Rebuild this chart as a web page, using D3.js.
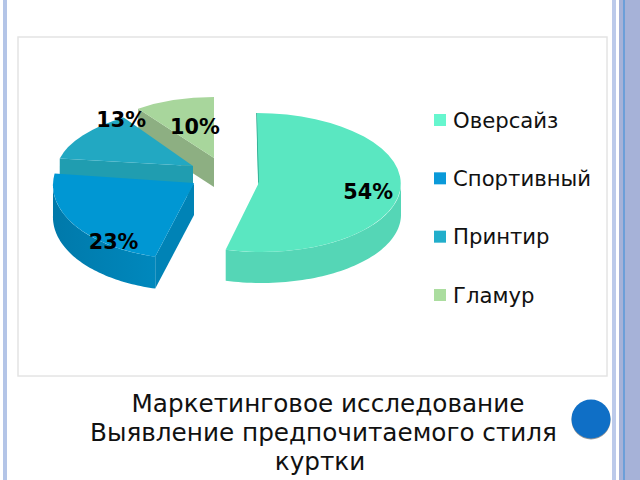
<!DOCTYPE html>
<html lang="ru">
<head>
<meta charset="utf-8">
<title>Маркетинговое исследование</title>
<script src="https://cdn.jsdelivr.net/npm/d3@7"></script>
<style>
html, body { margin: 0; padding: 0; background: #fff; overflow: hidden; }
svg { display: block; font-family: "DejaVu Sans", sans-serif; }
</style>
</head>
<body>
<script>
// data
var categories = ["Оверсайз", "Спортивный", "Принтир", "Гламур"];
var values = [54, 23, 13, 10];
var titleLines = ["Маркетинговое исследование", "Выявление предпочитаемого стиля", "куртки"];

// look
var topColors = ["#5ae7c1", "#0097d3", "#22a8c2", "#a8d69c"];
var wallColors = ["#55d6b6", "#0083b6", "#209db0", "#8daf82"];
var legendColors = ["#66f6ce", "#0a9ad9", "#22aecb", "#abdd9f"];

var w = 640, h = 480;
var titleX = [328, 323.5, 320];
var titleY = [411.5, 440.5, 470];

// each exploded slice has its own centre, squash and skew, the original has perspective
var sliceBox = [
    {cx: 259, cy: 182.5, rx: 142, ry: 69.5, k: 0.03, depth: 31, labelR: 0.77, labelDx: 0.5, labelDy: 3},
    {cx: 194, cy: 183, rx: 141, ry: 76, k: -0.05, depth: 32, labelR: 0.69, labelDx: 1.5, labelDy: 30},
    {cx: 193, cy: 166, rx: 136, ry: 60, k: -0.22, depth: 30, labelR: 0.62, labelDx: -3.5, labelDy: -27},
    {cx: 214, cy: 158, rx: 129, ry: 61, k: 0, depth: 29, labelR: 0.48, labelDx: 0, labelDy: -3}
];

var svg = d3.select("body").append("svg").attr("width", w).attr("height", h);

// darker towards the left on the blue wall
var grad = svg.append("defs").append("linearGradient").attr("id", "blueWall");
grad.append("stop").attr("offset", "0%").attr("stop-color", "#0079aa");
grad.append("stop").attr("offset", "100%").attr("stop-color", "#0088bd");

// slide frame
svg.append("rect").attr("x", 3).attr("y", 0).attr("width", 4).attr("height", h).attr("fill", "#b4c5e7");
svg.append("rect").attr("x", 612).attr("y", 0).attr("width", 4).attr("height", h).attr("fill", "#bccaea");
svg.append("rect").attr("x", 619).attr("y", 0).attr("width", 21).attr("height", h).attr("fill", "#a6b2d8");
svg.append("rect").attr("x", 623).attr("y", 0).attr("width", 2).attr("height", h).attr("fill", "#6c9fd9");

// chart box
svg.append("rect").attr("x", 18).attr("y", 37).attr("width", 589).attr("height", 339)
    .attr("fill", "#fff").attr("stroke", "#e4e4e4").attr("stroke-width", 1.5);

var pie = d3.pie().sort(null).value(function(d){ return d; });
var arcs = pie(values);

var arc = d3.arc().innerRadius(0).outerRadius(1);
var lineGen = d3.line();

function rim(b, a, r) {
    var yy = -b.ry * r * Math.cos(a);
    return [b.cx + b.rx * r * Math.sin(a) + b.k * yy, b.cy + yy];
}

// back to front
[3, 2, 1, 0].forEach(function(i){
    var d = arcs[i], b = sliceBox[i];
    var g = svg.append("g");

    // radial side wall, every slice shows the one at its start angle
    var p = rim(b, d.startAngle, 1), c = [b.cx, b.cy];
    g.append("path")
        .attr("d", lineGen([p, c, [c[0], c[1] + b.depth], [p[0], p[1] + b.depth]]) + "Z")
        .attr("fill", wallColors[i]);

    // curved outer wall on the front half
    var from = Math.max(d.startAngle, Math.PI / 2), to = Math.min(d.endAngle, Math.PI * 1.5);
    if (to > from) {
        var angles = d3.range(0, 61).map(function(k){ return from + (to - from) * k / 60; });
        var area = d3.area()
            .x(function(a){ return rim(b, a, 1)[0]; })
            .y0(function(a){ return rim(b, a, 1)[1]; })
            .y1(function(a){ return rim(b, a, 1)[1] + b.depth; });
        g.append("path").attr("d", area(angles))
            .attr("fill", i == 1 ? "url(#blueWall)" : wallColors[i]);
    }

    // thin dark edge of the big slice
    if (i == 0) {
        g.append("path").attr("d", lineGen([p, c])).attr("stroke", "#2fa78f").attr("stroke-width", 1.5).attr("fill", "none");
    }

    // top face
    g.append("path")
        .attr("transform", "matrix(" + [b.rx, 0, b.k * b.ry, b.ry, b.cx, b.cy].join(",") + ")")
        .attr("d", arc(d))
        .attr("fill", topColors[i]);
});

// value labels
arcs.forEach(function(d, i){
    var b = sliceBox[i];
    var p = rim(b, (d.startAngle + d.endAngle) / 2, b.labelR);
    svg.append("text")
        .attr("x", p[0] + b.labelDx).attr("y", p[1] + b.labelDy)
        .attr("text-anchor", "middle").attr("dominant-baseline", "central")
        .attr("font-size", 20.8).attr("font-weight", "bold").attr("fill", "#000")
        .text(d.value + "%");
});

// legend
var legendY = d3.scalePoint().domain(categories).range([120, 295]);
var legend = svg.selectAll(".leg").data(categories).enter().append("g").attr("class", "leg")
    .attr("transform", function(d){ return "translate(434," + legendY(d) + ")"; });
legend.append("rect").attr("x", 0).attr("y", -6).attr("width", 12).attr("height", 12)
    .attr("fill", function(d, i){ return legendColors[i]; });
legend.append("text").attr("x", 19).attr("y", 0).attr("dominant-baseline", "central")
    .attr("font-size", 21.2).attr("fill", "#111")
    .text(function(d){ return d; });

// caption
svg.selectAll(".cap").data(titleLines).enter().append("text").attr("class", "cap")
    .attr("x", function(d, i){ return titleX[i]; }).attr("y", function(d, i){ return titleY[i]; })
    .attr("text-anchor", "middle").attr("font-size", 24.7).attr("fill", "#111")
    .text(function(d){ return d; });

// round button
svg.append("circle").attr("cx", 591).attr("cy", 420).attr("r", 19.5).attr("fill", "#6b6b6b").attr("opacity", 0.7);
svg.append("circle").attr("cx", 591).attr("cy", 419).attr("r", 19.5).attr("fill", "#0f6fc6");
</script>
</body>
</html>
